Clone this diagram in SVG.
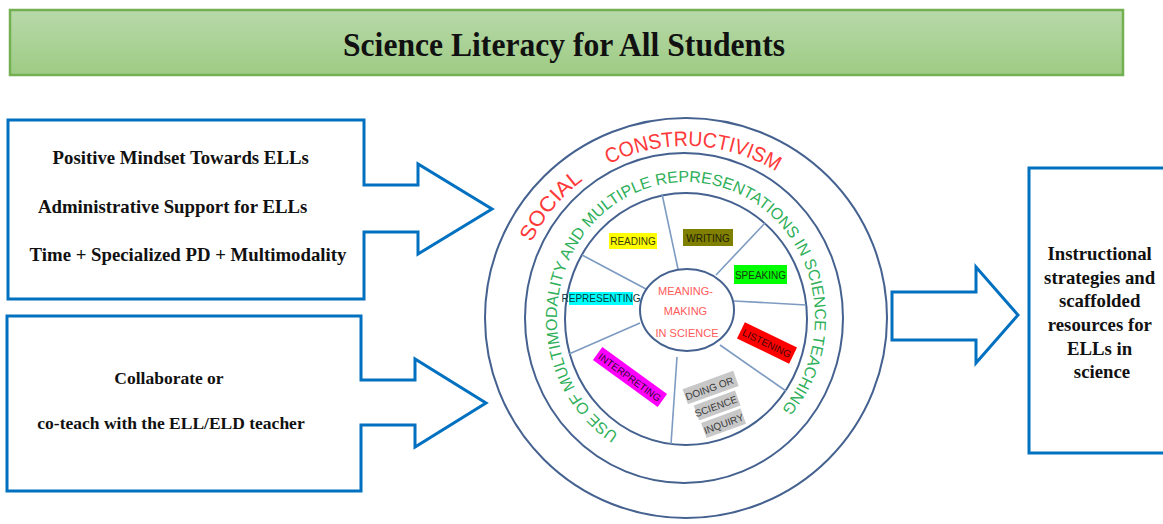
<svg xmlns="http://www.w3.org/2000/svg" width="1163" height="524" viewBox="0 0 1163 524">
  <style>
    .serif { font-family: "Liberation Serif", "Times New Roman", serif; font-weight: bold; fill: #111; }
    .sans { font-family: "Liberation Sans", Arial, sans-serif; }
    .callout { fill: #fff; stroke: #0070c0; stroke-width: 3; stroke-linejoin: miter; }
    .ring { fill: none; stroke: #44618f; stroke-width: 2; }
    .spoke { stroke: #7d9bc1; stroke-width: 1.6; }
    .lbl { font-family: "Liberation Sans", Arial, sans-serif; font-size: 10px; text-anchor: middle; }
    .core { font-family: "Liberation Sans", Arial, sans-serif; font-size: 11px; fill: #ff5a5a; text-anchor: middle; }
  </style>
  <defs>
    <linearGradient id="titleFill" x1="0" y1="0" x2="0" y2="1">
      <stop offset="0" stop-color="#b8d9a9"/>
      <stop offset="1" stop-color="#9dcb84"/>
    </linearGradient>
    <!-- baseline for the outer ring wording -->
    <path id="outerBand" d="M 524.4,259.2 A 172 172 0 0 1 817.8,207.4"/>
    <!-- baseline for the middle ring wording, clockwise from lower left to lower right -->
    <path id="middleBand" d="M 625.4,438.1 A 129 136 0 0 1 686,182 A 129 136 0 0 1 765.4,425.2"/>
  </defs>

  <rect width="1163" height="524" fill="#fff"/>

  <!-- title banner -->
  <g id="title">
    <rect x="10" y="10" width="1113" height="65" fill="url(#titleFill)" stroke="#74b052" stroke-width="2.5"/>
    <text class="serif" x="564" y="56" font-size="33" text-anchor="middle" textLength="442" lengthAdjust="spacingAndGlyphs">Science Literacy for All Students</text>
  </g>

  <!-- first input callout -->
  <g id="mindset">
    <path class="callout" d="M8,120 H364 V185 H418 V164 L492,209 L418,254 V232 H364 V299 H8 Z"/>
    <text class="serif" font-size="18.8" text-anchor="middle">
      <tspan x="183" y="164">Positive Mindset Towards ELLs</tspan>
      <tspan x="175" y="213">Administrative Support for ELLs</tspan>
      <tspan x="188" y="261">Time + Specialized PD + Multimodality</tspan>
    </text>
  </g>

  <!-- second input callout -->
  <g id="collaborate">
    <path class="callout" d="M7,316 H361 V380 H415 V359 L486,403 L415,447 V425 H361 V491 H7 Z"/>
    <text class="serif" font-size="17.5" text-anchor="middle">
      <tspan x="171" y="384">Collaborate or</tspan>
      <tspan x="171" y="429">co-teach with the ELL/ELD teacher</tspan>
    </text>
  </g>

  <!-- concentric framework -->
  <g id="framework">
    <ellipse class="ring" cx="686" cy="318" rx="201" ry="200"/>
    <ellipse class="ring" cx="684" cy="318" rx="159" ry="165"/>
    <ellipse class="ring" cx="686" cy="319" rx="121" ry="126"/>

    <g id="spokes">
      <line class="spoke" x1="678" y1="269" x2="662" y2="194"/>
      <line class="spoke" x1="716" y1="275" x2="765" y2="223"/>
      <line class="spoke" x1="734" y1="301" x2="806" y2="305"/>
      <line class="spoke" x1="720" y1="345" x2="786" y2="391"/>
      <line class="spoke" x1="677" y1="357" x2="671" y2="444"/>
      <line class="spoke" x1="640" y1="323" x2="569" y2="354"/>
      <line class="spoke" x1="646" y1="289" x2="582" y2="255"/>
    </g>

    <text class="sans" font-size="21" fill="#ff3838">
      <textPath href="#outerBand" startOffset="18" textLength="82" lengthAdjust="spacingAndGlyphs">SOCIAL</textPath>
    </text>
    <text class="sans" font-size="21" fill="#ff3838">
      <textPath href="#outerBand" startOffset="130" textLength="175" lengthAdjust="spacingAndGlyphs">CONSTRUCTIVISM</textPath>
    </text>
    <text class="sans" font-size="16" fill="#2fb05a">
      <textPath href="#middleBand" startOffset="8" textLength="652" lengthAdjust="spacingAndGlyphs">USE OF MULTIMODALITY AND MULTIPLE REPRESENTATIONS IN SCIENCE TEACHING</textPath>
    </text>

    <ellipse class="ring" cx="687" cy="310" rx="47" ry="41" fill="#fff"/>
    <text class="core">
      <tspan x="687" y="295">MEANING-</tspan>
      <tspan x="687" y="315">MAKING</tspan>
      <tspan x="687" y="337">IN SCIENCE</tspan>
    </text>
  </g>

  <!-- language practices around the core -->
  <g id="reading">
    <rect x="609" y="233" width="48" height="16" fill="#ffff00"/>
    <text class="lbl" x="633" y="245" fill="#3a3a10">READING</text>
  </g>
  <g id="writing">
    <rect x="683" y="229" width="50" height="17" fill="#808000"/>
    <text class="lbl" x="708" y="242" fill="#1e1e08">WRITING</text>
  </g>
  <g id="speaking">
    <rect x="734" y="265" width="53" height="19" fill="#00ff00"/>
    <text class="lbl" x="760.5" y="279" fill="#163a10">SPEAKING</text>
  </g>
  <g id="representing">
    <rect x="569" y="292" width="64" height="13" fill="#00ffff"/>
    <text class="lbl" x="601" y="302" font-size="8.3" fill="#063a3a">REPRESENTING</text>
  </g>
  <g id="listening" transform="rotate(26 767 343)">
    <rect x="738" y="334" width="58" height="18" fill="#ff0000"/>
    <text class="lbl" x="767" y="347" fill="#3a0808">LISTENING</text>
  </g>
  <g id="interpreting" transform="rotate(36 630 377)">
    <rect x="590" y="369" width="80" height="16" fill="#ff00ff"/>
    <text class="lbl" x="630" y="381" fill="#2a0a2a">INTERPRETING</text>
  </g>
  <g id="inquiry" transform="rotate(-20 714 397)">
    <rect x="687" y="379" width="54" height="16" fill="#c8c8c8"/>
    <rect x="692" y="398" width="44" height="16" fill="#c8c8c8"/>
    <rect x="693" y="417" width="42" height="16" fill="#c8c8c8"/>
    <text class="lbl" fill="#3a3a3a">
      <tspan x="714" y="391">DOING OR</tspan>
      <tspan x="714" y="410">SCIENCE</tspan>
      <tspan x="714" y="429">INQUIRY</tspan>
    </text>
  </g>

  <!-- output arrow -->
  <g id="connectors">
    <path class="callout" d="M892,292 H976 V267 L1018,315 L976,363 V340 H892 Z"/>
  </g>

  <!-- outcome box -->
  <g id="outcome">
    <rect x="1029" y="168" width="150" height="285" fill="#fff" stroke="#0070c0" stroke-width="3"/>
    <text class="serif" font-size="18.8" text-anchor="middle">
      <tspan x="1102" y="260">Instructional</tspan>
      <tspan x="1102" y="284">strategies and</tspan>
      <tspan x="1102" y="307">scaffolded</tspan>
      <tspan x="1102" y="331">resources for</tspan>
      <tspan x="1102" y="355">ELLs in</tspan>
      <tspan x="1102" y="378">science</tspan>
    </text>
  </g>
</svg>
